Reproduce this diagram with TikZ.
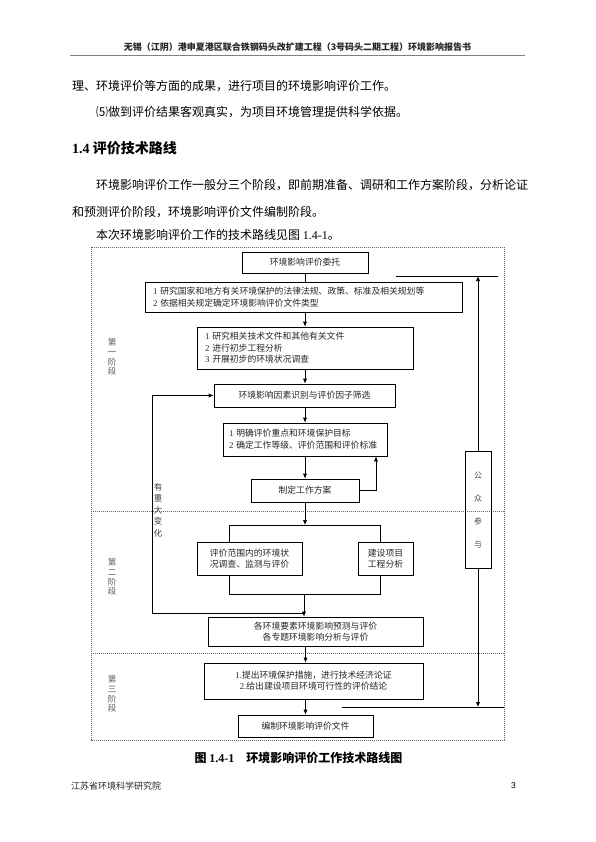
\documentclass[tikz,border=0pt]{standalone}
\usepackage{fontspec}
\setmainfont{Noto Sans CJK SC}
\newfontfamily\lat{Liberation Serif}
\newfontfamily\latsans{Liberation Sans}
\usetikzlibrary{arrows.meta}
\begin{document}
\begin{tikzpicture}[x=1pt,y=-1pt,
  box/.style={draw, line width=0.7pt, inner sep=0pt, font=\fontsize{8.8}{11.5}\selectfont, text=black!85},
  lbox/.style={box, align=left, inner xsep=8pt},
  cbox/.style={box, align=center},
  arr/.style={-{Latex[length=5pt,width=4.2pt]}, line width=0.7pt},
  ln/.style={line width=0.7pt},
  frame/.style={draw=black!60, line width=0.6pt, dash pattern=on 1.2pt off 0.8pt},
  body/.style={anchor=west, inner sep=0pt, font=\fontsize{12}{14}\selectfont},
  phase/.style={font=\fontsize{8.5}{9.6}\selectfont, text=black!65, align=center, inner sep=0pt},
]
\useasboundingbox[fill=white] (0,0) rectangle (595,842);

% header
\node[inner sep=0pt, font=\fontsize{9}{10}\selectfont\bfseries, text=black!85] (hdr) at (297.5,47) {无锡（江阴）港申夏港区联合铁钢码头改扩建工程（3号码头二期工程）环境影响报告书};
\coordinate (hl1) at (70,55.5);
\coordinate (hl2) at (525,55.5);
\draw[line width=0.8pt, black!50] (hl1) -- (hl2);

% body text
\node[body] (t1) at (72,86) {理、环境评价等方面的成果，进行项目的环境影响评价工作。};
\node[body] (t2) at (96,112) {⑸做到评价结果客观真实，为项目环境管理提供科学依据。};
\node[body, font=\fontsize{14}{16}\selectfont\bfseries] (t3) at (72,148) {{\lat\bfseries 1.4} 评价技术路线};
\node[body] (t4) at (96,185) {环境影响评价工作一般分三个阶段，即前期准备、调研和工作方案阶段，分析论证};
\node[body] (t5) at (72,212) {和预测评价阶段，环境影响评价文件编制阶段。};
\node[body] (t6) at (96,235) {本次环境影响评价工作的技术路线见图 {\lat 1.4-1}。};

% frame
\draw[frame] (91,247) rectangle (504,740);
\draw[frame] (91,511) -- (504,511);
\draw[frame] (91,653) -- (504,653);

% phase labels
\node[phase] (p1) at (112,357) {第\\一\\阶\\段};
\node[phase] (p2) at (112,577) {第\\二\\阶\\段};
\node[phase] (p3) at (112,694) {第\\三\\阶\\段};

% boxes
\node[cbox, minimum width=126pt, minimum height=21pt] (b1) at (305,262.5) {环境影响评价委托};
\node[lbox, minimum width=317pt, minimum height=30pt, text width=301pt] (b2) at (303.5,297) {{\lat 1} 研究国家和地方有关环境保护的法律法规、政策、标准及相关规划等\\{\lat 2} 依据相关规定确定环境影响评价文件类型};
\node[lbox, minimum width=216pt, minimum height=42pt, text width=200pt] (b3) at (305,348) {{\lat 1} 研究相关技术文件和其他有关文件\\{\lat 2} 进行初步工程分析\\{\lat 3} 开展初步的环境状况调查};
\node[cbox, minimum width=181pt, minimum height=23pt] (b4) at (304.5,395.5) {环境影响因素识别与评价因子筛选};
\node[lbox, minimum width=164pt, minimum height=33pt, text width=152pt, inner xsep=6pt, font=\fontsize{8.8}{12}\selectfont] (b5) at (305,439.5) {{\lat 1} 明确评价重点和环境保护目标\\{\lat 2} 确定工作等级、评价范围和评价标准};
\node[cbox, minimum width=108pt, minimum height=23pt] (b6) at (305,490.5) {制定工作方案};
\node[cbox, minimum width=105pt, minimum height=33pt, font=\fontsize{8.8}{11}\selectfont] (b7) at (249.5,558.5) {评价范围内的环境状\\况调查、监测与评价};
\node[cbox, minimum width=55pt, minimum height=33pt, font=\fontsize{8.8}{11}\selectfont] (b8) at (385.5,558.5) {建设项目\\工程分析};
\node[cbox, minimum width=215pt, minimum height=29pt, font=\fontsize{8.8}{11}\selectfont] (b9) at (315.5,631.5) {各环境要素环境影响预测与评价\\各专题环境影响分析与评价};
\node[cbox, minimum width=219pt, minimum height=36pt, font=\fontsize{8.8}{11}\selectfont] (b10) at (313.5,681) {{\lat 1.}提出环境保护措施，进行技术经济论证\\{\lat 2.}给出建设项目环境可行性的评价结论};
\node[cbox, minimum width=135pt, minimum height=22pt] (b11) at (305.5,726) {编制环境影响评价文件};
\node[cbox, minimum width=26pt, minimum height=117pt, font=\fontsize{8}{23}\selectfont, text=black!70] (gz) at (478,509.5) {公\\众\\参\\与};

% main flow
\draw[ln] (b1.south) -- (b1.south |- b2.north);
\draw[arr] (b2.south -| b1.south) -- (b1.south |- b3.north);
\draw[arr] (b3.south) -- (b3.south |- b4.north);
\draw[arr] (b4.south -| b3.south) -- (b3.south |- b5.north);
\draw[arr] (b5.south) -- (b5.south |- b6.north);

% loop from work plan back to b5
\coordinate (lp) at (376,490.5);
\draw[arr] (b6.east) -- (lp) -- (lp |- b5.south);

% bracket to the two parallel boxes
\coordinate (tl) at (229,525);
\coordinate (tr) at (380,525);
\draw[arr] (b6.south) -- (b6.south |- tl);
\draw[ln] (tl) -- (tr);
\draw[ln] (tl) -- (tl |- b7.north);
\draw[ln] (tr) -- (tr |- b8.north);
\coordinate (bl) at (229,594);
\coordinate (br) at (380,594);
\coordinate (bm) at (304,594);
\draw[ln] (bl |- b7.south) -- (bl) -- (br) -- (br |- b8.south);
\draw[arr] (bm) -- (bm |- b9.north);

% feedback loop
\coordinate (fb1) at (304,613);
\coordinate (fb2) at (152,613);
\draw[arr] (fb1) -- (fb2) -- (fb2 |- b4.west) -- (b4.west);
\node[font=\fontsize{8.5}{11.5}\selectfont, text=black!75, align=center, inner sep=0pt] (chg) at (158,510) {有\\重\\大\\变\\化};

\draw[arr] (b9.south -| b11.north) -- (b11.north |- b10.north);
\draw[arr] (b10.south -| b11.north) -- (b11.north);

% public participation
\coordinate (ta) at (396,276);
\coordinate (tb) at (498,276);
\draw[ln] (ta) -- (tb);
\draw[arr] (gz.north) -- (gz.north |- ta);
\coordinate (ba) at (342,707);
\coordinate (bb) at (504,707);
\draw[ln] (ba) -- (bb);
\draw[arr] (gz.south) -- (gz.south |- ba);

% caption
\node[inner sep=0pt, font=\fontsize{12}{14}\selectfont\bfseries] (cap) at (298.5,758) {图 {\lat\bfseries 1.4-1}\quad 环境影响评价工作技术路线图};

% footer
\node[anchor=west, inner sep=0pt, font=\fontsize{9}{10}\selectfont, text=black!85] (ft) at (71,786) {江苏省环境科学研究院};
\node[anchor=east, inner sep=0pt, font=\fontsize{8.5}{10}\selectfont\latsans] (pg) at (516,786) {3};
\end{tikzpicture}
\end{document}
